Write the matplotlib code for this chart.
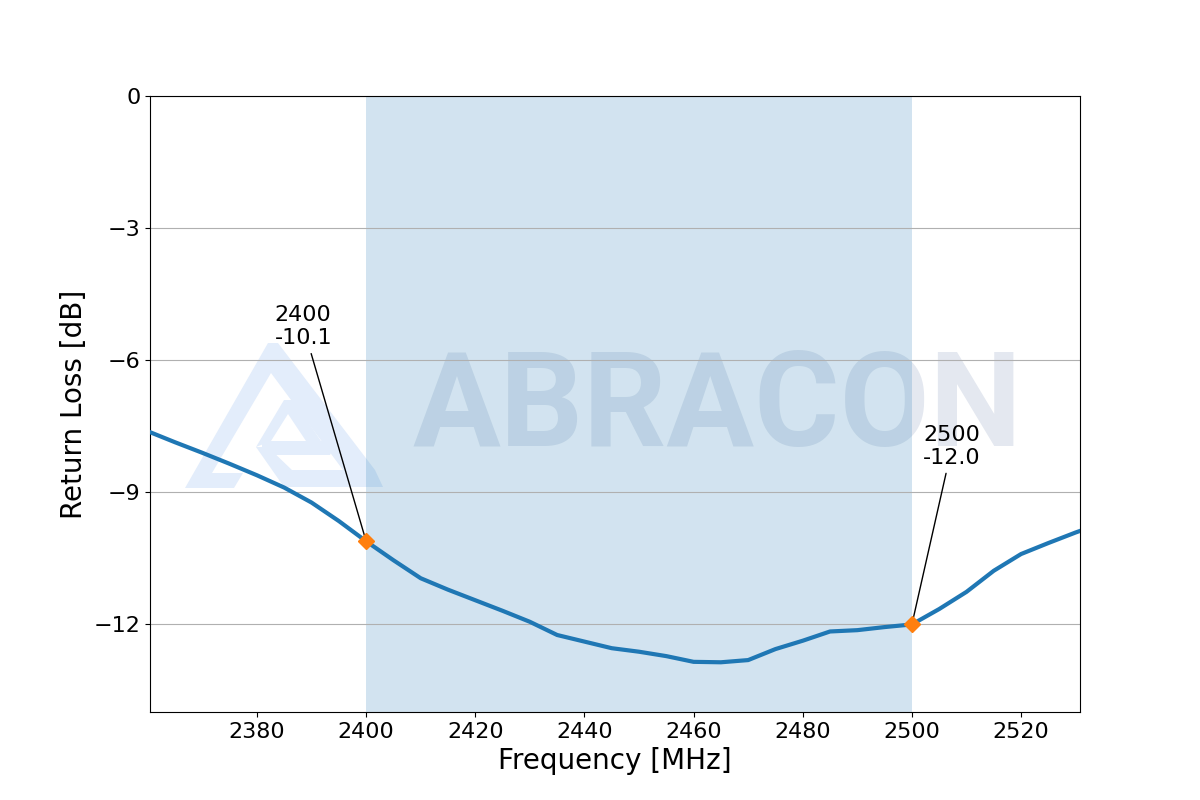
import matplotlib.pyplot as plt
from matplotlib.patches import Polygon

# data
freq = [2360, 2365, 2370, 2375, 2380, 2385, 2390, 2395, 2400, 2405,
        2410, 2415, 2420, 2425, 2430, 2435, 2440, 2445, 2450, 2455,
        2460, 2465, 2470, 2475, 2480, 2485, 2490, 2495, 2500, 2505,
        2510, 2515, 2520, 2525, 2530, 2535]
rl = [-7.62, -7.87, -8.11, -8.36, -8.62, -8.90, -9.24, -9.66, -10.12, -10.55,
      -10.96, -11.22, -11.46, -11.70, -11.95, -12.25, -12.40, -12.55, -12.63, -12.73,
      -12.86, -12.87, -12.82, -12.57, -12.38, -12.17, -12.14, -12.07, -12.01, -11.66,
      -11.27, -10.79, -10.41, -10.16, -9.92, -9.70]
band = [2400, 2500]
marker_f = [2400, 2500]
marker_rl = [-10.12, -12.01]
marker_labels = ['2400\n-10.1', '2500\n-12.0']
label_pos = [(2383.2, -5.64), (2502.1, -8.36)]

fig = plt.figure(figsize=(12, 8), dpi=100)
ax = fig.add_subplot(111)


def px(x, y):
    # pixel position (from top-left) to figure fraction
    return (x / 1200.0, 1 - y / 800.0)


# watermark: logo + name
logo_col = '#e3edfb'
logo_polys = [
    [(185, 488), (268, 343), (278, 343), (375, 470), (343, 470), (271, 373),
     (212, 473), (243, 473), (234, 488)],
    [(283, 487), (291, 470), (375, 470), (383, 487)],
    [(256, 447), (284, 400), (293, 400), (321, 441), (306, 441), (288, 414), (271, 441)],
    [(262, 441), (337, 441), (330, 455), (262, 455)],
    [(256, 447), (268, 447), (293, 471), (284, 487)],
]
for pts in logo_polys:
    ax.add_patch(Polygon([px(*p) for p in pts], closed=True, transform=fig.transFigure,
                         facecolor=logo_col, edgecolor='none', zorder=0.5))
ax.text(*px(412, 446), 'ABRACON', transform=fig.transFigure, family='Roboto',
        weight='bold', fontsize=94, color='#e4e8f0', ha='left', va='baseline', zorder=0.6)

ax.axvspan(band[0], band[1], alpha=0.2, color='C0', lw=0, zorder=1)
ax.plot(freq, rl, color='C0', lw=3, zorder=3)
ax.plot(marker_f, marker_rl, 'D', color='C1', markersize=8, zorder=4)
for f, v, lab, pos in zip(marker_f, marker_rl, marker_labels, label_pos):
    ax.annotate(lab, xy=(f, v), xytext=pos, fontsize=16,
                arrowprops=dict(arrowstyle='-', color='black', lw=1))

ax.set_xlim(2360.4, 2530.8)
ax.set_ylim(-14, 0)
ax.set_yticks([0, -3, -6, -9, -12])
ax.set_xticks(range(2380, 2521, 20))
ax.tick_params(labelsize=16)
ax.set_axisbelow('line')
ax.yaxis.grid(True, color='#b0b0b0')
ax.set_xlabel('Frequency [MHz]', fontsize=20)
ax.set_ylabel('Return Loss [dB]', fontsize=20)

plt.savefig('out.png', dpi=100)
